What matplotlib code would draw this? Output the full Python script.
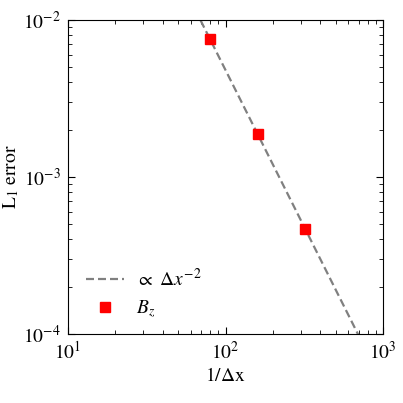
import numpy as np
import matplotlib
matplotlib.use("Agg")
import matplotlib.pyplot as plt

plt.rcParams['font.family'] = ['STIXGeneral', 'DejaVu Sans']
plt.rcParams['mathtext.fontset'] = 'stix'

inv_dx = [80, 160, 320]
err_Bz = [7.55e-3, 1.87e-3, 4.65e-4]
ref_coef = 48.0
ref_x = [10, 1000]

fig = plt.figure(figsize=(4.03, 4.03), dpi=100)
ax = fig.add_axes([68/403, 1-334/403, (383-68)/403, (334-20)/403])

xs = np.logspace(np.log10(ref_x[0]), np.log10(ref_x[1]), 200)
ax.plot(xs, ref_coef * xs**-2.0, ls=(0, (3.6, 1.8)), color='#808080', lw=1.6,
        label=r'$\propto\ \Delta x^{-2}$')
ax.plot(inv_dx, err_Bz, 's', color='#ff0000', ms=7, mec='#ff0000', label=r'$B_z$')

ax.set_xscale('log')
ax.set_yscale('log')
ax.set_xlim(10, 1000)
ax.set_ylim(1e-4, 1e-2)
ax.set_xlabel(r'1/$\Delta$x', fontsize=14, labelpad=3)
ax.set_ylabel(r'L$_1$ error', fontsize=14, labelpad=2)
ax.tick_params(which='both', direction='in', top=True, right=True, labelsize=14)
ax.tick_params(which='major', length=5, pad=5)
ax.tick_params(which='minor', length=3)
ax.legend(loc='lower left', frameon=False, fontsize=14, bbox_to_anchor=(0.0, -0.012),
          handlelength=2.0, handletextpad=0.6, labelspacing=0.45)
fig.savefig('out.png', dpi=100)
